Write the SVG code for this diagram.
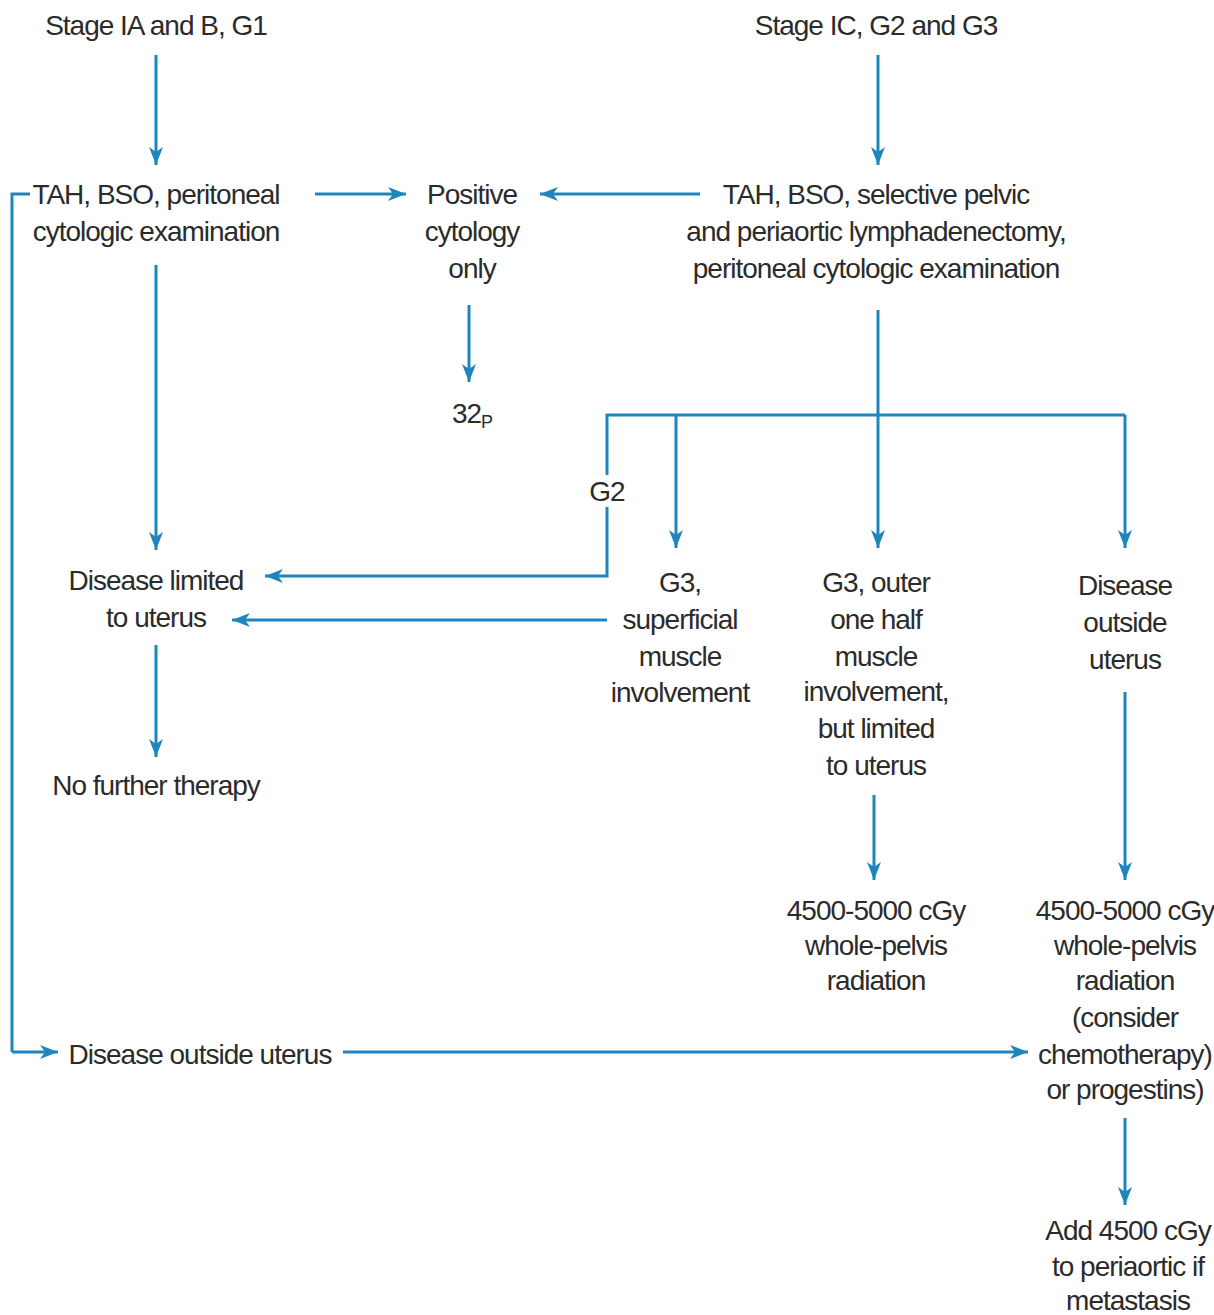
<svg xmlns="http://www.w3.org/2000/svg" width="1214" height="1315" viewBox="0 0 1214 1315">
<style>
text{font-family:"Liberation Sans",Arial,sans-serif;font-size:28px;fill:#2b2b2b;text-anchor:middle;letter-spacing:-1px}
.c{fill:none;stroke:#1f85bd;stroke-width:3}
.a{marker-end:url(#ah)}
</style>
<defs>
<marker id="ah" markerUnits="userSpaceOnUse" markerWidth="20" markerHeight="16" refX="18" refY="8" orient="auto">
<path d="M0,1 L18,8 L0,15 L5,8 Z" fill="#1f85bd"/>
</marker>
</defs>
<rect width="1214" height="1315" fill="#fff"/>
<g id="connectors">
<path class="c a" d="M156,55 V165"/>
<path class="c a" d="M878,55 V165"/>
<path class="c" d="M30,194 H12 V1052"/>
<path class="c a" d="M12,1052 H58"/>
<path class="c a" d="M315,194 H406"/>
<path class="c a" d="M700,194 H540"/>
<path class="c a" d="M469,305 V382"/>
<path class="c a" d="M156,265 V550"/>
<path class="c a" d="M878,310 V548"/>
<path class="c" d="M607,475 V415 H1125"/>
<path class="c a" d="M1125,415 V548"/>
<path class="c a" d="M676,415 V548"/>
<path class="c a" d="M607,507 V576 H265"/>
<path class="c a" d="M607,620 H232"/>
<path class="c a" d="M156,645 V757"/>
<path class="c a" d="M874,795 V880"/>
<path class="c a" d="M1125,692 V880"/>
<path class="c a" d="M343,1052 H1028"/>
<path class="c a" d="M1125,1118 V1205"/>
</g>
<g id="stage1"><text x="156" y="35">Stage IA and B, G1</text></g>
<g id="stage2"><text x="876" y="35">Stage IC, G2 and G3</text></g>
<g id="tah1"><text x="156" y="204">TAH, BSO, peritoneal</text><text x="156" y="241">cytologic examination</text></g>
<g id="positive"><text x="472" y="204">Positive</text><text x="472" y="241">cytology</text><text x="472" y="278">only</text></g>
<g id="tah2"><text x="876" y="204">TAH, BSO, selective pelvic</text><text x="876" y="241">and periaortic lymphadenectomy,</text><text x="876" y="278">peritoneal cytologic examination</text></g>
<g id="p32"><text x="472" y="423">32<tspan font-size="18" dy="5">P</tspan></text></g>
<g id="g2label"><text x="607" y="501">G2</text></g>
<g id="limited"><text x="156" y="590">Disease limited</text><text x="156" y="627">to uterus</text></g>
<g id="g3sup"><text x="680" y="592">G3,</text><text x="680" y="629">superficial</text><text x="680" y="666">muscle</text><text x="680" y="702">involvement</text></g>
<g id="g3outer"><text x="876" y="592">G3, outer</text><text x="876" y="629">one half</text><text x="876" y="666">muscle</text><text x="876" y="701">involvement,</text><text x="876" y="738">but limited</text><text x="876" y="775">to uterus</text></g>
<g id="outside1"><text x="1125" y="595">Disease</text><text x="1125" y="632">outside</text><text x="1125" y="669">uterus</text></g>
<g id="nofurther"><text x="156" y="795">No further therapy</text></g>
<g id="rad1"><text x="876" y="920">4500-5000 cGy</text><text x="876" y="955">whole-pelvis</text><text x="876" y="990">radiation</text></g>
<g id="rad2"><text x="1125" y="920">4500-5000 cGy</text><text x="1125" y="955">whole-pelvis</text><text x="1125" y="990">radiation</text><text x="1125" y="1027">(consider</text><text x="1125" y="1064">chemotherapy)</text><text x="1125" y="1099">or progestins)</text></g>
<g id="outside2"><text x="200" y="1064">Disease outside uterus</text></g>
<g id="add"><text x="1128" y="1240">Add 4500 cGy</text><text x="1128" y="1276">to periaortic if</text><text x="1128" y="1310">metastasis</text></g>
</svg>
